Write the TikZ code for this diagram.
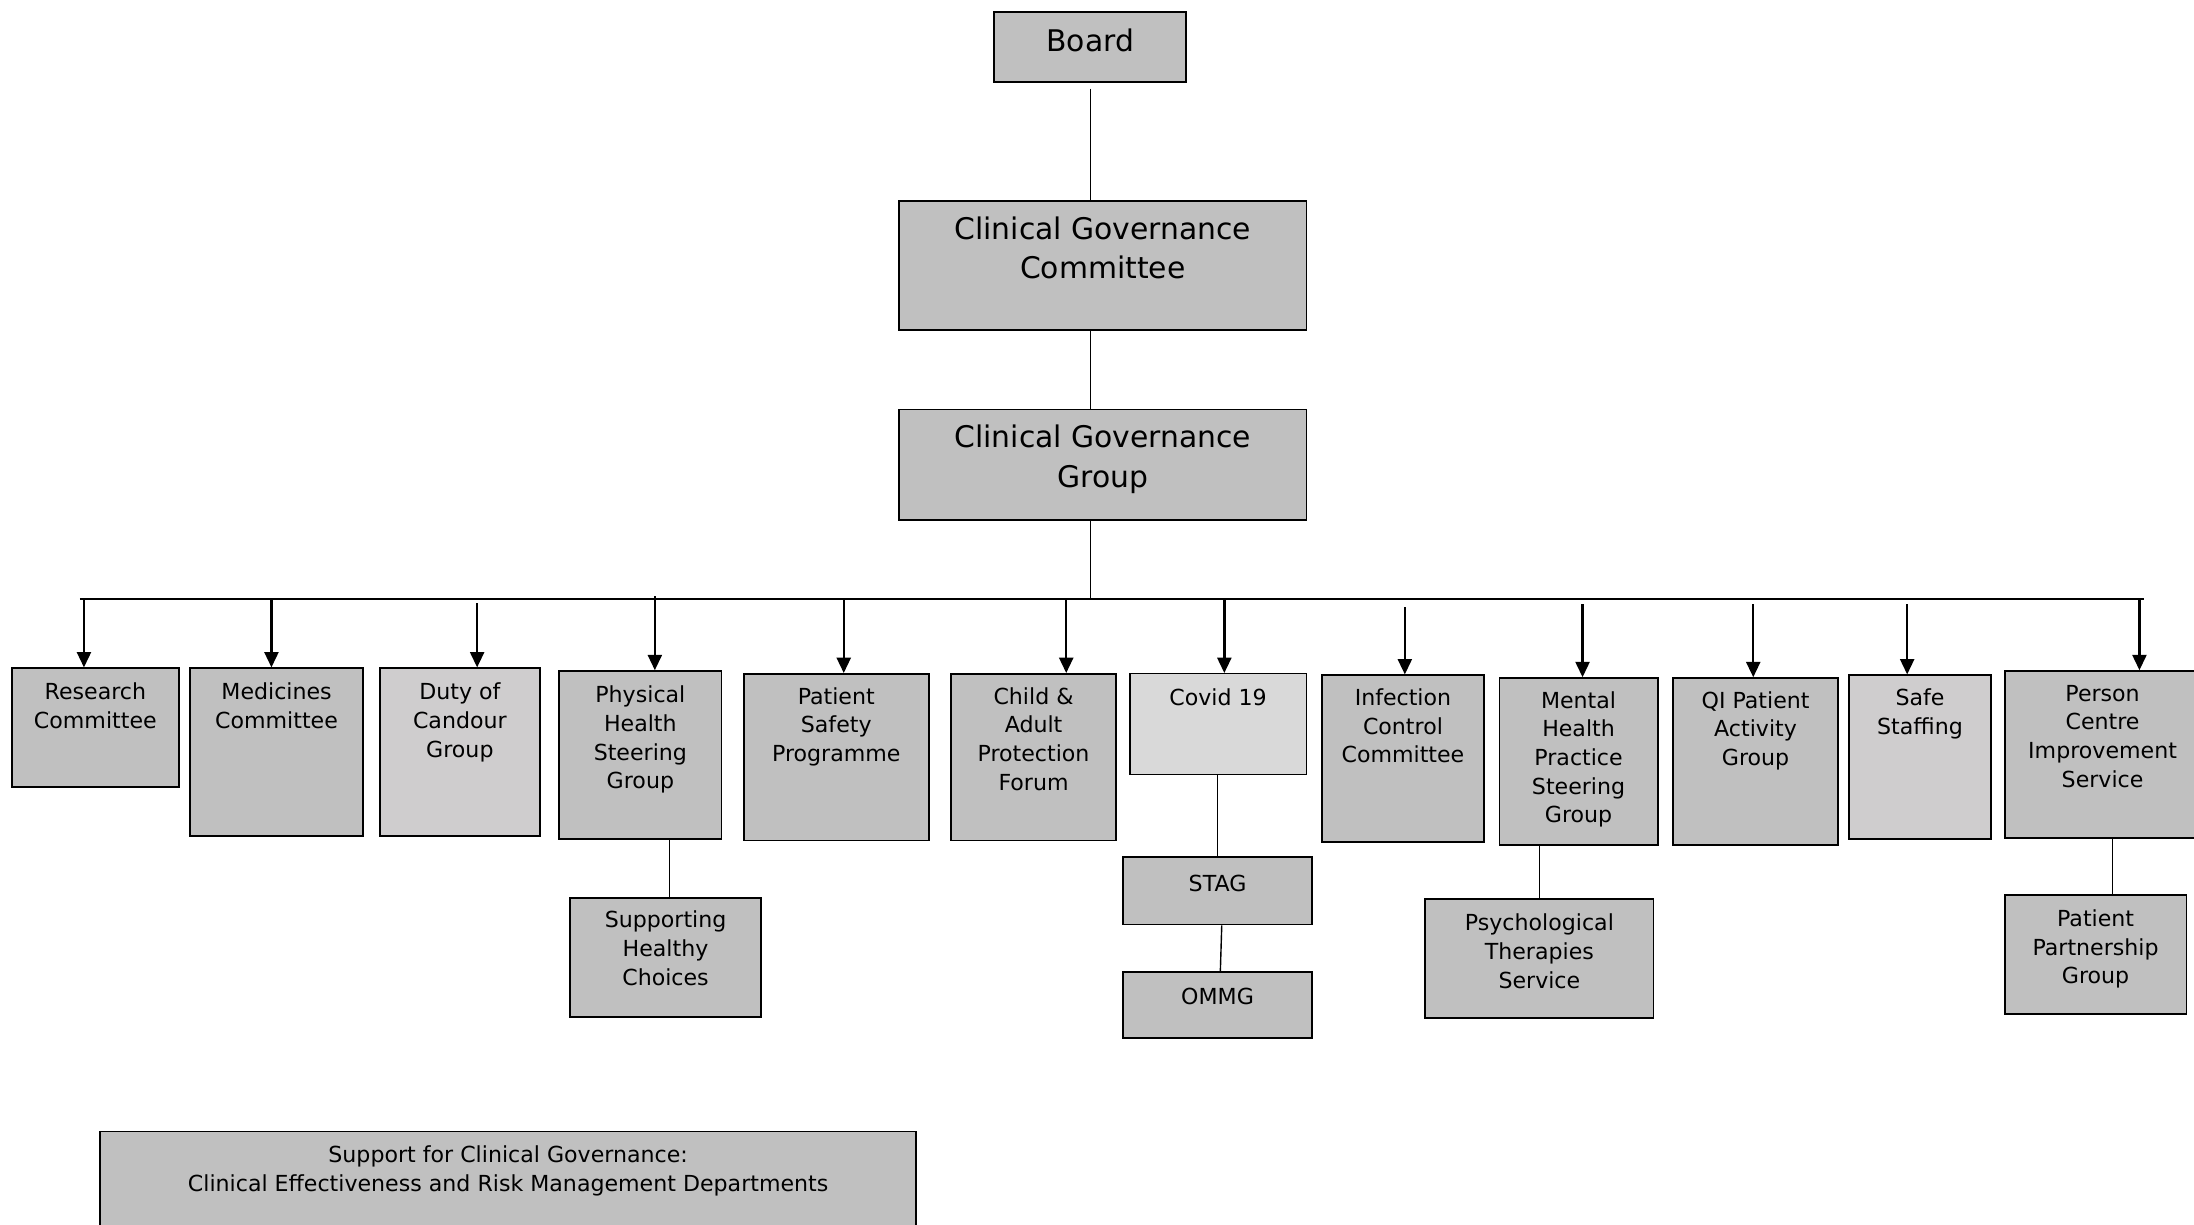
\documentclass[tikz,border=0pt]{standalone}
\usepackage{fontspec}
\setmainfont{DejaVu Sans}
\usetikzlibrary{arrows.meta}
\definecolor{g1}{HTML}{C0C0C0}
\definecolor{g2}{HTML}{CFCDCE}
\definecolor{g3}{HTML}{D9D9D9}
\newcommand\smtxt{\fontsize{15.8}{20.5}\selectfont}
\newcommand\bigtxt{\fontsize{21.3}{28}\selectfont}
% width, height, first-baseline offset, text
\newcommand\bt[4]{\parbox[c][#2pt][t]{#1pt}{\centering\rule{0pt}{#3pt}#4\par}}
\begin{document}
\begin{tikzpicture}[x=1pt,y=-1pt,
  box/.style={draw, line width=1.3pt, fill=g1, inner sep=0pt, anchor=north west, font=\smtxt},
  bigbox/.style={box, font=\bigtxt},
  conn/.style={line width=1pt},
  bar/.style={line width=1.5pt},
  arr/.style={line width=1.7pt, -{Triangle[length=11pt,width=10pt]}}]
\useasboundingbox (0,0) rectangle (1568,875);
\fill[white] (0,0) rectangle (1568,875);

% top chain
\node[bigbox] (board) at (710,8)   {\bt{137}{50}{28.5}{Board}};
\node[bigbox] (cgc)   at (642,143) {\bt{291}{92}{27.5}{Clinical Governance\\Committee}};
\node[bigbox] (cgg)   at (642,292) {\bt{291}{79}{27.5}{Clinical Governance\\Group}};

% second level
\node[box] (rc)   at (8,477)    {\bt{119}{85}{22.5}{Research\\Committee}};
\node[box] (med)  at (135,477)  {\bt{124}{120}{22.5}{Medicines\\Committee}};
\node[box, fill=g2] (duty) at (271,477) {\bt{114}{120}{22.5}{Duty of\\Candour\\Group}};
\node[box] (phys) at (399,479)  {\bt{116}{120}{22.5}{Physical\\Health\\Steering\\Group}};
\node[box] (psp)  at (531,481)  {\bt{132}{119}{21.5}{Patient\\Safety\\Programme}};
\node[box] (cap)  at (679,481)  {\bt{118}{119}{21.5}{Child \&\\Adult\\Protection\\Forum}};
\node[box, fill=g3, line width=1pt] (cov) at (807,481) {\bt{126}{72}{22.5}{Covid 19}};
\node[box] (icc)  at (944,482)  {\bt{116}{119}{21.5}{Infection\\Control\\Committee}};
\node[box] (mh)   at (1071,484) {\bt{113}{119}{21.5}{Mental\\Health\\Practice\\Steering\\Group}};
\node[box] (qi)   at (1195,484) {\bt{118}{119}{21.5}{QI Patient\\Activity\\Group}};
\node[box, fill=g2] (safe) at (1321,482) {\bt{101}{117}{21.5}{Safe\\Staffing}};
\node[box] (pc)   at (1432,479) {\bt{140}{119}{21.5}{Person\\Centre\\Improvement\\Service}};

% third level
\node[box] (shc)  at (407,641)  {\bt{136}{85}{21.5}{Supporting\\Healthy\\Choices}};
\node[box] (stag) at (802,612)  {\bt{135}{48}{24.5}{STAG}};
\node[box] (ommg) at (802,694)  {\bt{135}{47}{23.5}{OMMG}};
\node[box] (pts)  at (1018,642) {\bt{163}{85}{22.5}{Psychological\\Therapies\\Service}};
\node[box] (ppg)  at (1432,639) {\bt{130}{85}{22.5}{Patient\\Partnership\\Group}};

% support box
\node[box] (sup)  at (71,808)   {\bt{583}{90}{22.5}{Support for Clinical Governance:\\Clinical Effectiveness and Risk Management Departments}};

% connectors top chain
\coordinate (barL) at (57,428);
\coordinate (barR) at (1532,428);
\draw[conn] ([yshift=-4pt]board.south) -- (board.south |- cgc.north);
\draw[conn] (board.south |- cgc.south) -- (board.south |- cgg.north);
\draw[conn] (board.south |- cgg.south) -- (board.south |- barL);
\draw[bar] (barL) -- (barR);

% arrows
\foreach \n/\x/\y in {rc/60/428, med/194/428, duty/341/431, phys/468/426, psp/603/428,
  cap/762/428, cov/875/428, icc/1004/434, mh/1131/432, qi/1253/432, safe/1363/432, pc/1529/428}
  {\coordinate (t\n) at (\x,\y);
   \draw[arr] (t\n) -- (t\n |- \n.north);}

% sub connectors
\draw[conn] ([xshift=3pt]shc.north |- phys.south) -- ([xshift=3pt]shc.north);
\draw[conn] (stag.north |- cov.south) -- (stag.north);
\draw[conn] ([xshift=3pt]stag.south) -- ([xshift=2pt]ommg.north);
\draw[conn] (pts.north |- mh.south) -- (pts.north);
\draw[conn] ([xshift=12pt]ppg.north |- pc.south) -- ([xshift=12pt]ppg.north);
\end{tikzpicture}
\end{document}
